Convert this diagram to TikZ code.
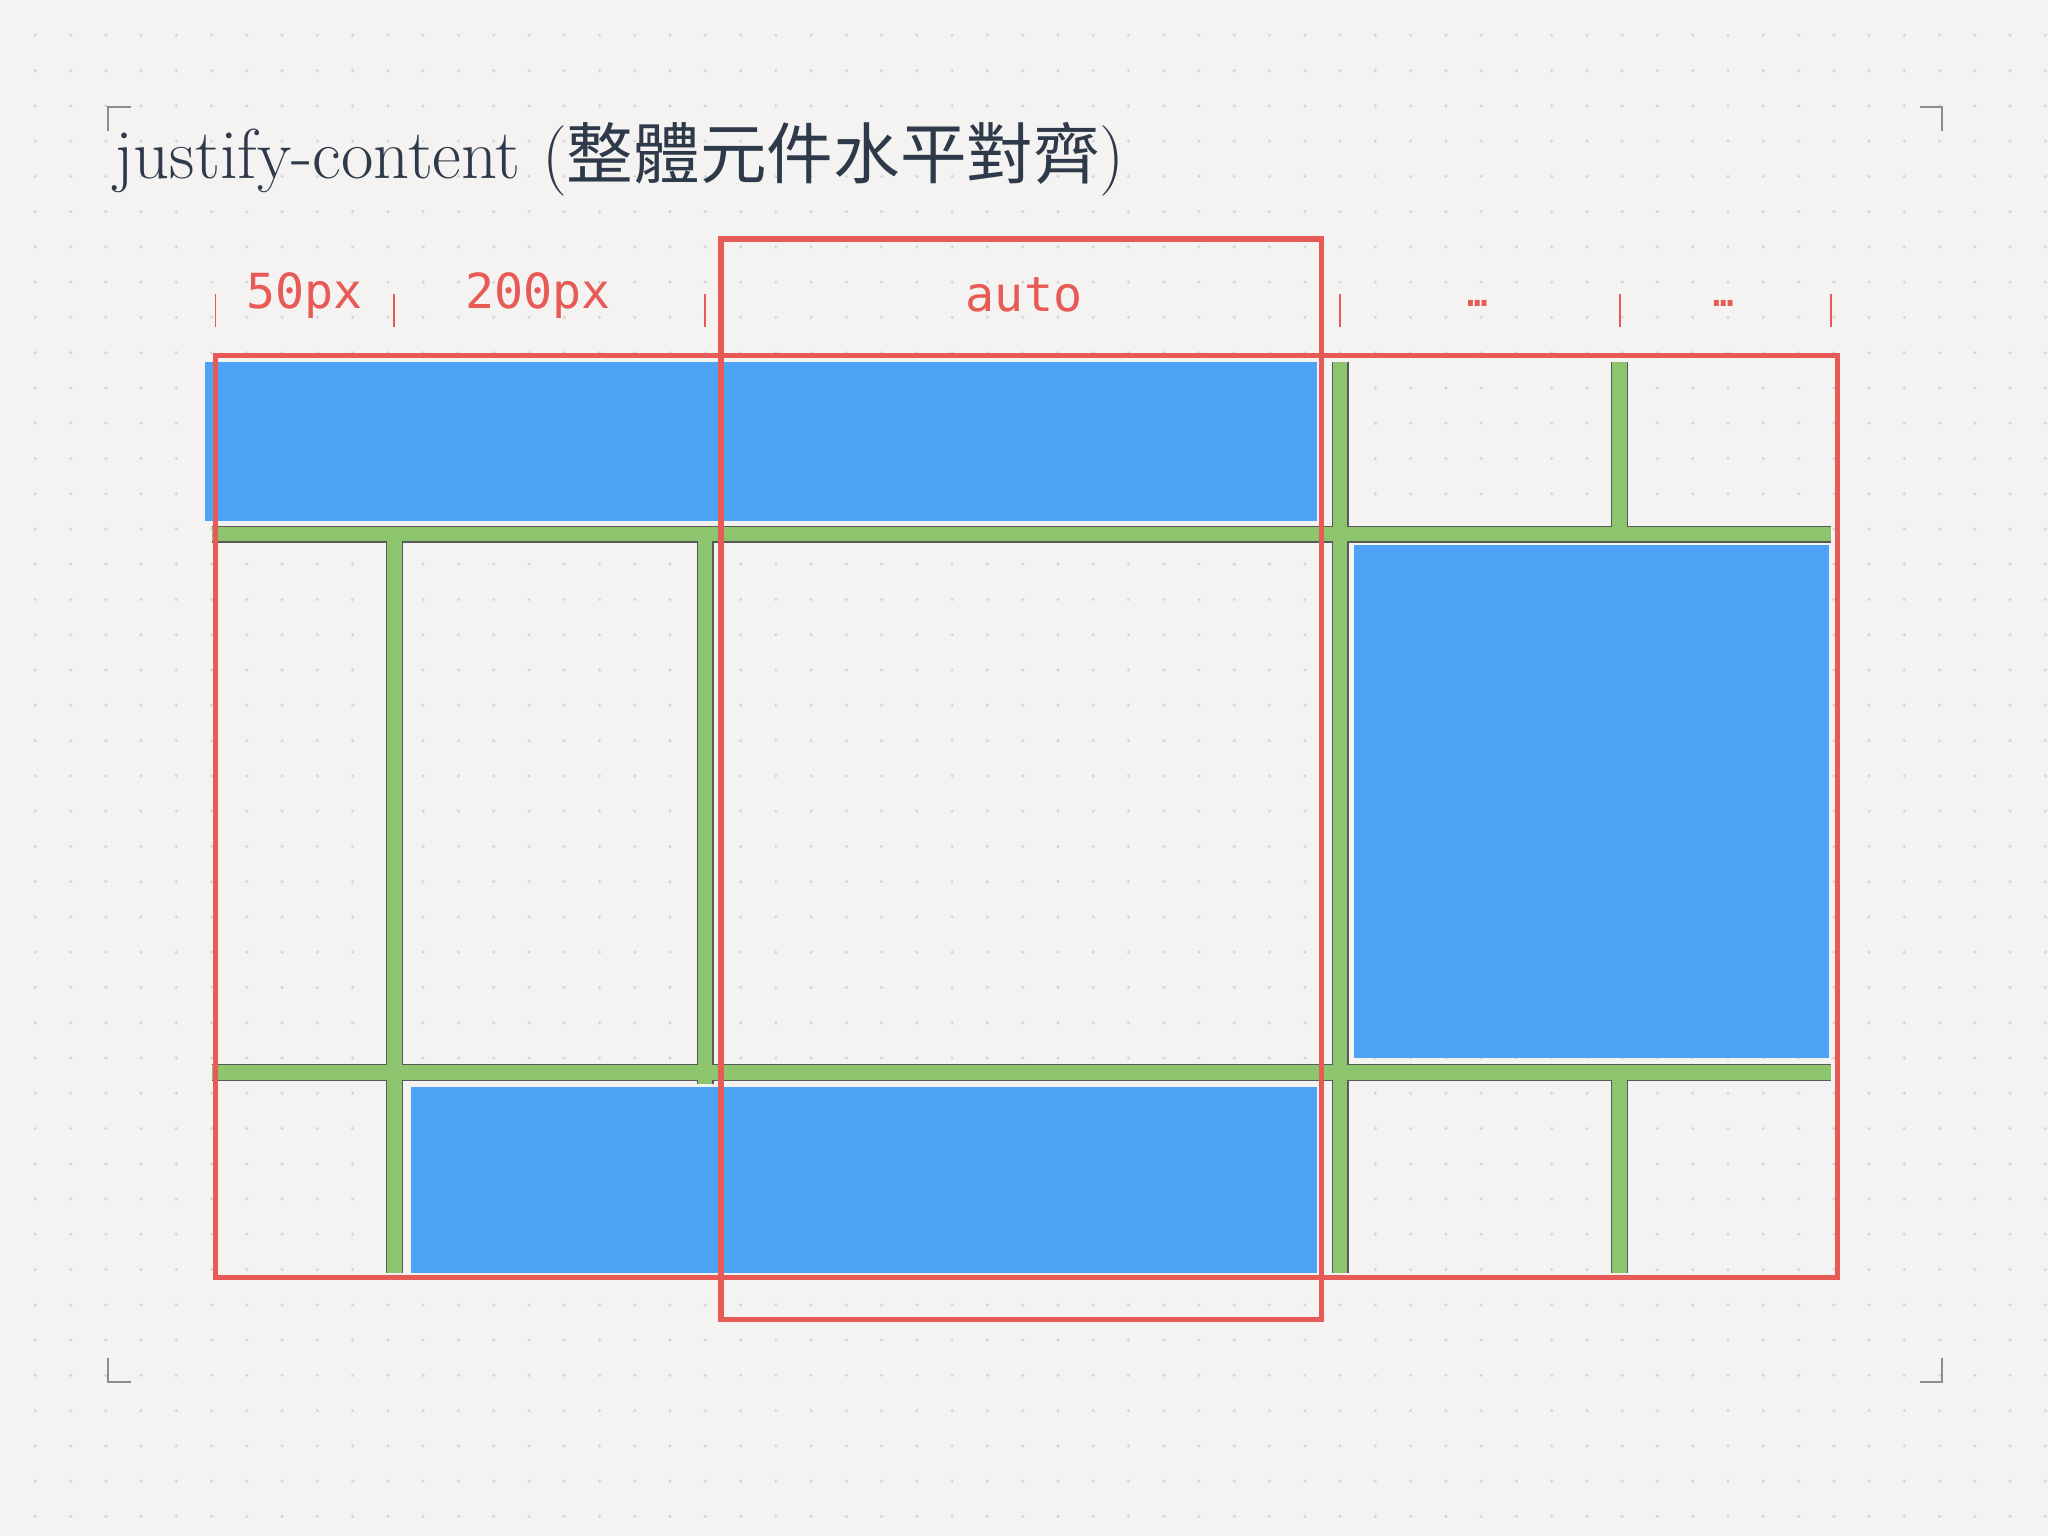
\documentclass[tikz,border=0pt]{standalone}
\usepackage{fontspec}
\newfontfamily\cjk{Noto Sans CJK TC}
\newfontfamily\monof{DejaVu Sans Mono}
\begin{document}
\begin{tikzpicture}[x=1pt,y=-1pt]
\definecolor{bg}{HTML}{F4F3F2}
\definecolor{bl}{HTML}{4FA3F7}
\definecolor{gr}{HTML}{8CC56E}
\definecolor{rd}{HTML}{E85A55}
\definecolor{tt}{HTML}{2E3A4A}
\tikzset{corner/.style={draw=black!45,line width=1.5pt},
  gl/.style={draw=gr,line width=11pt},
  gdark/.style={draw=black!65,line width=13pt},
  redbox/.style={draw=rd,line width=4pt},
  lbl/.style={text=rd,font=\monof\fontsize{37}{40}\selectfont},
  dots/.style={text=rd,font=\monof\bfseries\fontsize{26}{28}\selectfont}}
\fill[bg] (0,0) rectangle (1568,1176);
\useasboundingbox (0,0) rectangle (1568,1176);
\foreach \i in {0,...,57}{\foreach \j in {0,...,43}{\fill[black!16] (\i*27+27,\j*27+27) circle (1.3);}}
% corners
\draw[corner] (83,100) -- (83,82) -- (100,82);
\draw[corner] (1470,82) -- (1487,82) -- (1487,100);
\draw[corner] (83,1040) -- (83,1058) -- (100,1058);
\draw[corner] (1487,1040) -- (1487,1058) -- (1470,1058);
% title
\node[anchor=west,text=tt,font=\fontsize{54}{58}\selectfont] (title) at (84,122) {justify-content ({\cjk\fontsize{51}{55}\selectfont 整體元件水平對齊})};
% blue
\fill[bl] (157,277) rectangle (1008,399);
\fill[bl] (1037,417) rectangle (1400,810);
\fill[bl] (315,832) rectangle (1008,975);
% green grid
\foreach \a/\b/\c/\d in {162/409/1402/409, 162/821/1402/821, 302/409/302/975, 540/409/540/830, 1026/277/1026/975, 1240/277/1240/409, 1240/821/1240/975}{
 \draw[gdark] (\a,\b)--(\c,\d);}
\foreach \a/\b/\c/\d in {162/409/1402/409, 162/821/1402/821, 302/409/302/975, 540/409/540/830, 1026/277/1026/975, 1240/277/1240/409, 1240/821/1240/975}{
 \draw[gl] (\a,\b)--(\c,\d);}
% red boxes
\draw[redbox] (165,272) rectangle (1407,978);
\draw[redbox] (552,183) rectangle (1012,1010);
% ticks
\foreach \x in {165,302,540,1026,1240,1402}{\draw[draw=rd,line width=1.5pt] (\x,225)--(\x,250);}
% labels
\node[lbl] (l1) at (233,226) {50px};
\node[lbl] (l2) at (412,226) {200px};
\node[lbl] (l3) at (784,226) {auto};
\node[dots] (l4) at (1131,232) {…};
\node[dots] (l5) at (1320,232) {…};
\end{tikzpicture}
\end{document}
